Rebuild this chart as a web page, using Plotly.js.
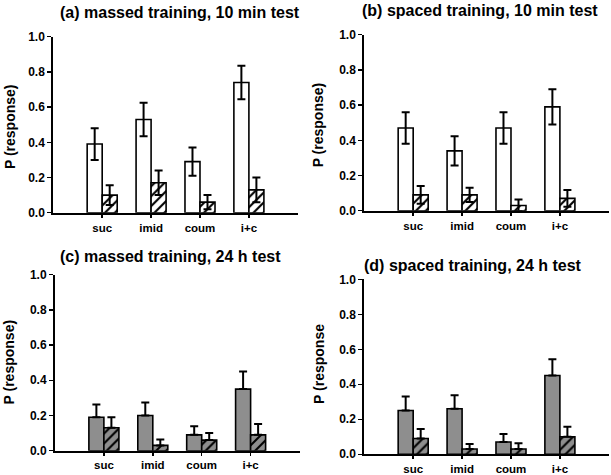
<!DOCTYPE html>
<html><head><meta charset="utf-8">
<script src="https://cdn.plot.ly/plotly-3.0.1.min.js"></script>
<style>html,body{margin:0;padding:0;background:#fff}#chart{width:611px;height:475px}</style>
</head><body><div id="chart"></div>
<script>
const categories = ['suc', 'imid', 'coum', 'i+c'];
const yTicks = [0, 0.2, 0.4, 0.6, 0.8, 1.0];
const yTickText = ['0.0', '0.2', '0.4', '0.6', '0.8', '1.0'];

// (a) massed training, 10 min test
const aOpen = [0.39, 0.53, 0.29, 0.74];
const aOpenErr = [0.09, 0.095, 0.08, 0.095];
const aHatch = [0.10, 0.17, 0.06, 0.13];
const aHatchErr = [0.056, 0.07, 0.04, 0.07];
// (b) spaced training, 10 min test
const bOpen = [0.47, 0.34, 0.47, 0.59];
const bOpenErr = [0.09, 0.083, 0.09, 0.10];
const bHatch = [0.09, 0.09, 0.03, 0.07];
const bHatchErr = [0.05, 0.04, 0.033, 0.047];
// (c) massed training, 24 h test
const cGray = [0.19, 0.20, 0.09, 0.35];
const cGrayErr = [0.073, 0.074, 0.049, 0.10];
const cHatch = [0.13, 0.03, 0.06, 0.09];
const cHatchErr = [0.06, 0.033, 0.04, 0.061];
// (d) spaced training, 24 h test
const dGray = [0.25, 0.26, 0.07, 0.45];
const dGrayErr = [0.08, 0.078, 0.046, 0.093];
const dHatch = [0.09, 0.03, 0.03, 0.10];
const dHatchErr = [0.054, 0.029, 0.033, 0.057];

const titles = ['(a) massed training, 10 min test', '(b) spaced training, 10 min test',
                '(c) massed training, 24 h test', '(d) spaced training, 24 h test'];
const yTitles = ['P (response)', 'P (response)', 'P (response)', 'P (response'];

const xPos = categories.map((c, i) => i);
const GRAY = '#8e8e8e';

function bar(y, err, sym, fill, hatched, ax) {
  const t = {
    type: 'bar', x: xPos, y: y, xaxis: 'x' + ax, yaxis: 'y' + ax,
    marker: { color: fill, line: { color: '#000', width: 1.6 } },
    error_y: sym ? { type: 'data', array: err, visible: true, color: '#000', thickness: 2, width: 4 }
                 : { type: 'data', symmetric: false, array: err, arrayminus: err.map(() => 0), visible: true, color: '#000', thickness: 2, width: 4 },
    showlegend: false, hoverinfo: 'skip'
  };
  if (hatched) {
    t.marker.pattern = { shape: '/', bgcolor: fill, fgcolor: '#000', fgopacity: 1, size: 7, solidity: 0.3, fillmode: 'overlay' };
  }
  return t;
}

const data = [
  bar(aOpen, aOpenErr, true, '#ffffff', false, ''),
  bar(aHatch, aHatchErr, true, '#ffffff', true, ''),
  bar(bOpen, bOpenErr, true, '#ffffff', false, '2'),
  bar(bHatch, bHatchErr, true, '#ffffff', true, '2'),
  bar(cGray, cGrayErr, false, GRAY, false, '3'),
  bar(cHatch, cHatchErr, false, GRAY, true, '3'),
  bar(dGray, dGrayErr, false, GRAY, false, '4'),
  bar(dHatch, dHatchErr, false, GRAY, true, '4')
];

const FONT = 'Liberation Sans, Arial, sans-serif';
function xax(domain, anchor) {
  return { domain: domain, anchor: anchor, range: [-1, 4], tickvals: xPos, ticktext: categories,
    showline: true, linecolor: '#000', linewidth: 2, ticks: 'outside', ticklen: 3, tickwidth: 1.5, tickcolor: '#000',
    showgrid: false, zeroline: false, fixedrange: true,
    tickfont: { family: FONT, size: 11.5, color: '#000', weight: 'bold' } };
}
function yax(domain, anchor) {
  return { domain: domain, anchor: anchor, range: [0, 1], tickvals: yTicks, ticktext: yTickText,
    showline: true, linecolor: '#000', linewidth: 2, ticks: 'outside', ticklen: 4, tickwidth: 1.5, tickcolor: '#000',
    showgrid: false, zeroline: false, fixedrange: true,
    tickfont: { family: FONT, size: 12, color: '#000', weight: 'bold' } };
}

const xd = [[0.0872, 0.4874], [0.5962, 0.9964], [0.0900, 0.4902], [0.5962, 0.9964]];
const yd = [[0.5522, 0.9227], [0.5564, 0.9269], [0.0512, 0.4217], [0.0436, 0.4120]];
// left edge of each panel title (paper fraction), vertical centre
const titlePos = [[0.0950, 0.9733], [0.5892, 0.9789], [0.0950, 0.4596], [0.5925, 0.4421]];
const yTitlePos = [[0.0164, 0.7326], [0.521, 0.7368], [0.0155, 0.2379], [0.522, 0.2337]];

const annotations = [];
titles.forEach((t, i) => annotations.push({ text: t, xref: 'paper', yref: 'paper', x: titlePos[i][0], y: titlePos[i][1],
  xanchor: 'left', yanchor: 'middle', showarrow: false, font: { family: FONT, size: 16, color: '#000', weight: 'bold' } }));
yTitles.forEach((t, i) => annotations.push({ text: t, xref: 'paper', yref: 'paper', x: yTitlePos[i][0], y: yTitlePos[i][1],
  xanchor: 'center', yanchor: 'middle', textangle: -90, showarrow: false, font: { family: FONT, size: 14, color: '#000', weight: 'bold' } }));

const layout = {
  width: 611, height: 475, margin: { l: 0, r: 0, t: 0, b: 0 },
  paper_bgcolor: '#fff', plot_bgcolor: '#fff',
  barmode: 'group', bargap: 0.386, bargroupgap: 0,
  xaxis: xax(xd[0], 'y'), yaxis: yax(yd[0], 'x'),
  xaxis2: xax(xd[1], 'y2'), yaxis2: yax(yd[1], 'x2'),
  xaxis3: xax(xd[2], 'y3'), yaxis3: yax(yd[2], 'x3'),
  xaxis4: xax(xd[3], 'y4'), yaxis4: yax(yd[3], 'x4'),
  annotations: annotations
};

Plotly.newPlot('chart', data, layout, { staticPlot: true, displayModeBar: false });
</script></body></html>
